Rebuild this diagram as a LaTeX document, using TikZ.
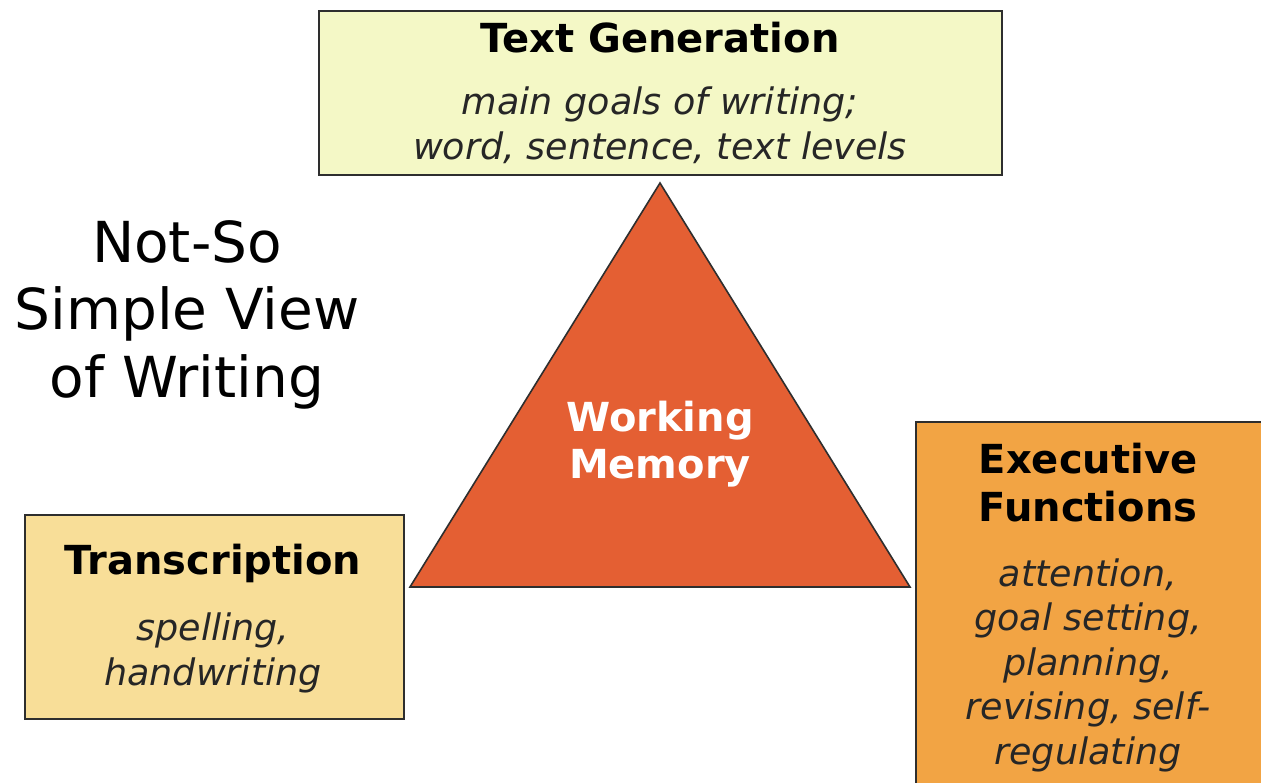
\documentclass[tikz,border=0pt]{standalone}
\usepackage{fontspec}
\setmainfont{DejaVu Sans}
\definecolor{genfill}{HTML}{F4F8C6}
\definecolor{trfill}{HTML}{F8DE98}
\definecolor{exfill}{HTML}{F2A444}
\definecolor{wmfill}{HTML}{E45F33}
\definecolor{edge}{HTML}{2E2E2E}
\tikzset{
  box/.style={draw=edge, line width=2pt},
  title/.style={font=\fontsize{40}{48}\selectfont\bfseries, align=center, inner sep=0pt},
  detail/.style={font=\fontsize{36.5}{44.5}\selectfont\itshape, align=center, inner sep=0pt, text=black!85},
}
\begin{document}
\begin{tikzpicture}[x=1pt,y=-1pt]
\useasboundingbox (0,0) rectangle (1261,782);
\clip (0,0) rectangle (1261,782);
\fill[white] (0,0) rectangle (1261,782);
% Text Generation box
\node[box, fill=genfill, minimum width=683pt, minimum height=164pt, anchor=north west] (gen) at (318,10) {};
\node[title, anchor=base] (gentitle) at (660,52) {Text Generation};
\node[detail, anchor=base] (gendet) at (660,159) {main goals of writing;\\word, sentence, text levels};
% Triangle
\coordinate (apex) at (660,183);
\coordinate (bl) at (410,587);
\coordinate (br) at (910,587);
\filldraw[fill=wmfill, draw=edge, line width=1.6pt, line join=miter] (apex) -- (bl) -- (br) -- cycle;
\node[title, text=white, font=\fontsize{40}{47}\selectfont\bfseries, anchor=base] (wm) at (660,478) {Working\\Memory};
% Title text
\node[font=\fontsize{56.5}{67.5}\selectfont, align=center, inner sep=0pt, anchor=base] (nsv) at (187,397) {Not-So\\Simple View\\of Writing};
% Transcription box
\node[box, fill=trfill, minimum width=379pt, minimum height=204pt, anchor=north west] (tr) at (24,514) {};
\node[title, anchor=base] (trtitle) at (213,574) {Transcription};
\node[detail, anchor=base] (trdet) at (213,685) {spelling,\\handwriting};
% Executive Functions box
\node[box, fill=exfill, minimum width=400pt, minimum height=420pt, anchor=north west] (ex) at (915,421) {};
\node[title, anchor=base] (extitle) at (1088,521) {Executive\\Functions};
\node[detail, anchor=base] (exdet) at (1088,764) {attention,\\goal setting,\\planning,\\revising, self-\\regulating};
\end{tikzpicture}
\end{document}
